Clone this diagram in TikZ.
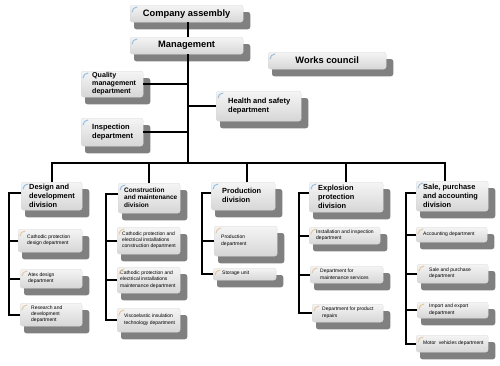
\documentclass[tikz,border=0pt]{standalone}
\usepackage{fontspec}
\setmainfont{Liberation Sans}
\usetikzlibrary{backgrounds}
\definecolor{shadowc}{RGB}{128,128,128}
\definecolor{markblue}{RGB}{150,190,225}
\definecolor{marktan}{RGB}{230,200,160}
\tikzset{
  frontbox/.style={rounded corners=2.5pt, inner sep=0pt, top color=white!96!black, bottom color=black!16, draw=white!85!black, line width=0.3pt},
  conn/.style={line width=2.2pt, black},
  txt/.style={inner sep=0pt, align=left},
  tTop/.style={txt, font=\fontsize{9.3}{11}\selectfont\bfseries},
  tQ/.style={txt, font=\fontsize{7.1}{8}\selectfont\bfseries},
  tH/.style={txt, font=\fontsize{7.5}{9}\selectfont\bfseries},
  tD/.style={txt, font=\fontsize{7.4}{9}\selectfont\bfseries},
  tC/.style={txt, font=\fontsize{6.5}{7.7}\selectfont\bfseries},
  tS/.style={txt, font=\fontsize{5}{6.2}\selectfont},
  cmark/.style={line width=1pt, line cap=round}
}
% #1 text style, #2 name, #3 indent, #4 x1, #5 y1, #6 x2, #7 y2, #8 text
\newcommand\bx[8]{%
  \pgfmathsetmacro\bxw{#6-#4}\pgfmathsetmacro\bxh{#7-#5}%
  \node[frontbox, anchor=north west, minimum width=\bxw pt, minimum height=\bxh pt] (#2) at (#4,#5) {};
  \node[#1, anchor=west] (#2-t) at ([xshift=#3pt,yshift=0.5pt]#2.west) {#8};}
\newcommand\cbx[7]{%
  \pgfmathsetmacro\bxw{#5-#3}\pgfmathsetmacro\bxh{#6-#4}%
  \node[frontbox, anchor=north west, minimum width=\bxw pt, minimum height=\bxh pt] (#2) at (#3,#4) {};
  \node[#1] (#2-t) at (#2.center) {#7};}
\begin{document}
\begin{tikzpicture}[x=1pt,y=-1pt]
\useasboundingbox (0,0) rectangle (500,365);
% top
\cbx{tTop}{ca}{130}{5}{243}{22}{Company assembly}
\cbx{tTop}{mg}{130}{37}{243}{54}{Management}
\cbx{tTop}{wc}{268}{52}{386}{69}{Works council}
\bx{tQ}{qm}{11}{81}{71}{143}{97}{Quality\\management\\department}
\bx{tH}{hs}{12}{216}{91}{301}{121}{Health and safety\\department}
\bx{tH}{ins}{11}{81}{118}{143}{146}{Inspection\\department}
% divisions
\bx{tD}{dd}{8}{21}{182}{82}{210}{Design and\\development\\division}
\bx{tC}{cm}{6}{118}{183}{180}{213}{Construction\\and maintenance\\division}
\bx{tD}{pd}{11}{211}{182}{275}{210}{Production\\division}
\bx{tD}{ep}{9}{309}{182}{383}{212}{Explosion\\protection\\division}
\bx{tD}{sp}{7}{416}{181}{488}{211}{Sale, purchase\\and accounting\\division}
% departments
\bx{tS}{csd}{9}{18}{229}{82}{252}{Cathodic protection\\design department}
\bx{tS}{atx}{8}{20}{269}{82}{288}{Atex design\\department}
\bx{tS}{rd}{11}{20}{303}{82}{326}{Research and\\development\\department}
\bx{tS}{cec}{5}{117}{227}{180}{254}{Cathodic protection and\\electrical installations\\construction department}
\bx{tS}{cem}{3}{117}{267}{180}{293}{Cathodic protection and\\electrical installations\\maintenance department}
\bx{tS}{vi}{7}{117}{308}{180}{332}{Viscoelastic insulation\\technology department}
\bx{tS}{pdd}{7}{214}{226}{277}{256}{Production\\department}
\bx{tS}{su}{9}{213}{268}{276}{280}{Storage unit}
\bx{tS}{ii}{7}{309}{227}{380}{244}{Installation and inspection\\department}
\bx{tS}{dms}{10}{310}{266}{383}{283}{Department for\\maintenance services}
\bx{tS}{dpr}{10}{312}{304}{383}{322}{Department for product\\repairs}
\bx{tS}{acc}{7}{416}{227}{487}{242}{Accounting department}
\bx{tS}{spd}{12}{417}{264}{488}{283}{Sale and purchase\\department}
\bx{tS}{iex}{12}{417}{302}{488}{318}{Import and export\\department}
\bx{tS}{mv}{7}{416}{335}{488}{352}{Motor\ \ vehicles department}
% shadows
\begin{pgfonlayer}{background}
\fill[white] (0,0) rectangle (500,365);
\foreach \n in {ca,mg,wc,qm,hs,ins,dd,cm,pd,ep,sp,csd,atx,rd,cec,cem,vi,pdd,su,ii,dms,dpr,acc,spd,iex,mv}
  \fill[shadowc, rounded corners=2.5pt] ([xshift=4pt,yshift=-7pt]\n.north west) rectangle ([xshift=7pt,yshift=-7pt]\n.south east);
\end{pgfonlayer}
% corner marks
\foreach \n in {ca,mg,wc,qm,hs,ins,dd,cm,pd,ep,sp}
  \draw[cmark, markblue] ([xshift=2pt,yshift=-7pt]\n.north west) to[out=90,in=180] ([xshift=7pt,yshift=-2pt]\n.north west);
\foreach \n in {csd,atx,rd,cec,cem,vi,pdd,su,ii,dms,dpr,acc,spd,iex,mv}
  \draw[cmark, marktan] ([xshift=2pt,yshift=-7pt]\n.north west) to[out=90,in=180] ([xshift=7pt,yshift=-2pt]\n.north west);
% connectors
\coordinate (bus) at (188,163);
\draw[conn] (bus |- ca.south) -- (bus |- mg.north);
\draw[conn] (bus |- mg.south) -- (bus);
\draw[conn] (qm.east) -- (qm.east -| bus);
\draw[conn] (hs.west) -- (hs.west -| bus);
\draw[conn] (ins.east) -- (ins.east -| bus);
\coordinate (pd0) at ([xshift=4pt]pd.north);
\coordinate (sp0) at ([xshift=-7pt]sp.north);
\draw[conn] (dd.north) -- (dd.north |- bus) -- (sp0 |- bus) -- (sp0);
\draw[conn] (cm.north |- bus) -- (cm.north);
\draw[conn] (pd0 |- bus) -- (pd0);
\draw[conn] (ep.north |- bus) -- (ep.north);
% branches
\coordinate (dsp) at (9,193);
\draw[conn] (dd.west |- dsp) -- (dsp) |- (rd.west);
\draw[conn] (csd.west) -- (csd.west -| dsp);
\draw[conn] (atx.west) -- (atx.west -| dsp);
\coordinate (csp) at (106,194);
\draw[conn] (cm.west |- csp) -- (csp) |- (vi.west);
\draw[conn] (cec.west) -- (cec.west -| csp);
\draw[conn] (cem.west) -- (cem.west -| csp);
\coordinate (psp) at (202,193);
\draw[conn] (pd.west |- psp) -- (psp) |- (su.west);
\draw[conn] (pdd.west) -- (pdd.west -| psp);
\coordinate (esp) at (299,193);
\draw[conn] (ep.west |- esp) -- (esp) |- (dpr.west);
\draw[conn] (ii.west) -- (ii.west -| esp);
\draw[conn] (dms.west) -- (dms.west -| esp);
\coordinate (ssp) at (406,193);
\draw[conn] (sp.west |- ssp) -- (ssp) |- (mv.west);
\draw[conn] (acc.west) -- (acc.west -| ssp);
\draw[conn] (spd.west) -- (spd.west -| ssp);
\draw[conn] (iex.west) -- (iex.west -| ssp);
\end{tikzpicture}
\end{document}
